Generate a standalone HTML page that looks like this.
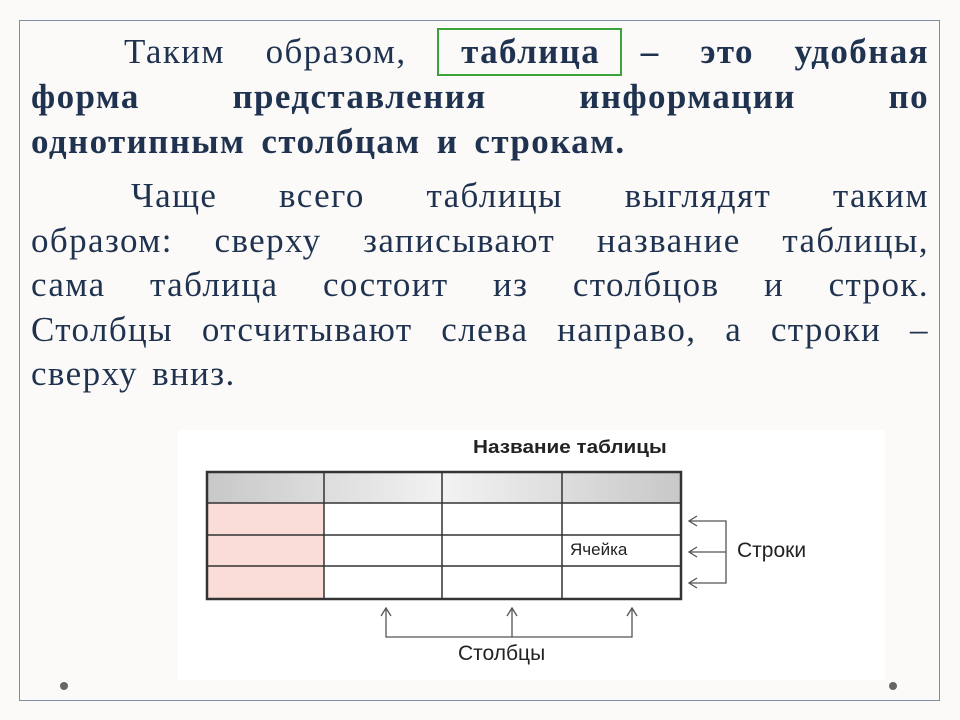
<!DOCTYPE html>
<html><head><meta charset="utf-8"><style>
body{margin:0;width:960px;height:720px;background:#fcfaf8;position:relative;overflow:hidden;font-family:"Liberation Serif","Noto Serif CJK SC",serif;color:#1f3350}
.frame{position:absolute;left:19px;top:20px;width:921px;height:681px;border:1px solid #7a8ea6;box-sizing:border-box}
.l{position:absolute;left:31px;width:898px;font-size:35px;letter-spacing:1.4px;white-space:nowrap;line-height:36px;height:36px}
.b{font-weight:bold}
.dot{position:absolute;width:8px;height:8px;border-radius:50%;background:#666}
.s{font-family:"Liberation Sans",sans-serif;color:#222;position:absolute;white-space:nowrap}
</style></head><body>
<div class="frame"></div>
<div style="position:absolute;left:437px;top:28px;width:185px;height:48px;border:2px solid #3aa33a;box-sizing:border-box"></div>
<div class="l" style="top:34px;display:flex;justify-content:space-between"><span style="margin-left:93px">Таким</span><span>образом,</span><span class="b" style="margin-left:14px">таблица</span><span class="b">–</span><span class="b">это</span><span class="b">удобная</span></div>
<div class="l b" style="top:79px;display:flex;justify-content:space-between"><span>форма</span><span>представления</span><span>информации</span><span>по</span></div>
<div class="l b" style="top:124px;word-spacing:6px">однотипным столбцам и строкам.</div>
<div class="l" style="top:178px;display:flex;justify-content:space-between"><span style="margin-left:100px">Чаще</span><span>всего</span><span>таблицы</span><span>выглядят</span><span>таким</span></div>
<div class="l" style="top:223px;display:flex;justify-content:space-between"><span>образом:</span><span>сверху</span><span>записывают</span><span>название</span><span>таблицы,</span></div>
<div class="l" style="top:267px;display:flex;justify-content:space-between"><span>сама</span><span>таблица</span><span>состоит</span><span>из</span><span>столбцов</span><span>и</span><span>строк.</span></div>
<div class="l" style="top:312px;display:flex;justify-content:space-between"><span>Столбцы</span><span>отсчитывают</span><span>слева</span><span>направо,</span><span>а</span><span>строки</span><span>–</span></div>
<div class="l" style="top:356px;word-spacing:4px">сверху вниз.</div>
<div style="position:absolute;left:178px;top:430px;width:707px;height:250px;background:#fff"></div>
<svg style="position:absolute;left:0;top:0" width="960" height="720">
<defs><linearGradient id="g" x1="0" x2="1"><stop offset="0" stop-color="#c8c8c8"/><stop offset="0.5" stop-color="#f2f2f2"/><stop offset="1" stop-color="#c8c8c8"/></linearGradient></defs>
<rect x="207" y="472" width="474" height="31" fill="url(#g)"/>
<rect x="207" y="503" width="117" height="96" fill="#f9ddd6"/>
<g stroke="#333" stroke-width="1.5" fill="none">
<rect x="207" y="472" width="474" height="127" stroke-width="2.5"/>
<line x1="324" y1="472" x2="324" y2="599"/><line x1="442" y1="472" x2="442" y2="599"/><line x1="562" y1="472" x2="562" y2="599"/>
<line x1="207" y1="503" x2="681" y2="503"/><line x1="207" y1="535" x2="681" y2="535"/><line x1="207" y1="566" x2="681" y2="566"/>
</g>
<g stroke="#555" stroke-width="1.3" fill="none">
<polyline points="689,521 726,521 726,583 689,583"/><line x1="689" y1="552" x2="726" y2="552"/>
<polyline points="697,516 689,521 697,526"/><polyline points="697,547 689,552 697,557"/><polyline points="697,578 689,583 697,588"/>
<polyline points="386,608 386,637 632,637 632,608"/><line x1="512" y1="608" x2="512" y2="637"/>
<polyline points="381,616 386,608 391,616"/><polyline points="507,616 512,608 517,616"/><polyline points="627,616 632,608 637,616"/>
</g>
</svg>
<div class="s" style="left:473px;top:437px;font-weight:bold;font-size:18px;transform:scaleX(1.15);transform-origin:left">Название таблицы</div>
<div class="s" style="left:570px;top:540px;font-size:17px">Ячейка</div>
<div class="s" style="left:737px;top:539px;font-size:21px">Строки</div>
<div class="s" style="left:458px;top:642px;font-size:21px">Столбцы</div>
<div class="dot" style="left:60px;top:682px"></div>
<div class="dot" style="left:889px;top:682px"></div>
</body></html>
